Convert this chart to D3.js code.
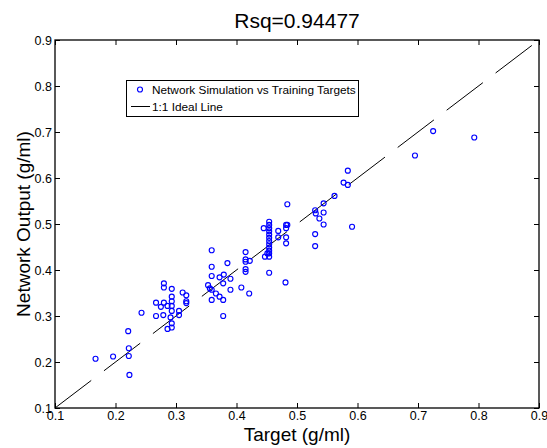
<!DOCTYPE html>
<html><head><meta charset="utf-8">
<script src="https://cdn.jsdelivr.net/npm/d3@7"></script>
<style>
body{margin:0;background:#fff}
svg{display:block}
text{font-family:"Liberation Sans",Arial,sans-serif;fill:#000}
</style>
</head><body><svg id="c" width="547" height="448"></svg>
<script>
// ---- data ----
const targets = [
 0.167,0.196,0.221,0.222,0.222,0.223,0.243,
 0.267,0.280,0.275,0.267,0.279,0.280,0.280,0.293,0.293,0.293,0.286,0.293,0.293,0.291,0.293,0.293,0.286,
 0.305,0.305,0.311,0.317,0.317,0.317,
 0.359,0.359,0.359,0.353,0.356,0.359,0.359,0.366,0.372,0.378,0.378,0.372,0.379,0.378,0.385,0.390,0.390,
 0.408,0.421,0.415,0.415,0.415,0.415,0.415,0.422,
 0.454,0.454,0.454,0.454,0.454,0.454,0.454,0.454,0.454,0.454,0.454,0.454,0.445,0.447,0.451,0.454,
 0.484,0.469,0.469,0.482,0.484,0.482,0.482,0.482,0.481,
 0.530,0.531,0.537,0.544,0.544,0.544,0.530,0.530,
 0.562,0.577,0.584,0.584,0.591,
 0.695,0.725,0.793
];
const outputs = [
 0.207,0.212,0.267,0.230,0.213,0.172,0.307,
 0.329,0.329,0.320,0.300,0.302,0.371,0.362,0.359,0.342,0.332,0.322,0.322,0.311,0.297,0.284,0.275,0.272,
 0.311,0.302,0.351,0.345,0.332,0.328,
 0.443,0.407,0.387,0.367,0.360,0.357,0.335,0.349,0.342,0.335,0.300,0.384,0.390,0.371,0.415,0.381,0.357,
 0.362,0.349,0.439,0.423,0.418,0.402,0.396,0.420,
 0.505,0.498,0.491,0.484,0.477,0.470,0.463,0.456,0.449,0.442,0.436,0.429,0.491,0.429,0.436,0.394,
 0.543,0.485,0.471,0.498,0.498,0.491,0.471,0.458,0.373,
 0.530,0.523,0.512,0.545,0.525,0.499,0.478,0.452,
 0.561,0.590,0.585,0.616,0.494,
 0.649,0.702,0.688
];
const idealLine = [0.1, 0.9];
const xTicks = [0.1,0.2,0.3,0.4,0.5,0.6,0.7,0.8,0.9];
const yTicks = [0.1,0.2,0.3,0.4,0.5,0.6,0.7,0.8,0.9];
const titleText = "Rsq=0.94477";
const xLabel = "Target (g/ml)";
const yLabel = "Network Output (g/ml)";
const legendLabels = ["Network Simulation vs Training Targets", "1:1 Ideal Line"];

// ---- drawing ----
const svg = d3.select("#c");
const L = 55, R = 539, T = 40, B = 408;
const x = d3.scaleLinear().domain([0.1, 0.9]).range([L, R]);
const y = d3.scaleLinear().domain([0.1, 0.9]).range([B, T]);
const fmt = d3.format(".1f");

svg.append("rect").attr("width", 547).attr("height", 448).attr("fill", "#fff");

// ideal line
svg.append("line")
  .attr("x1", x(idealLine[0])).attr("y1", y(idealLine[0]))
  .attr("x2", x(idealLine[1])).attr("y2", y(idealLine[1]))
  .attr("stroke", "#000").attr("stroke-width", 1)
  .attr("stroke-dasharray", "45.5,16");

// points
svg.append("g").selectAll("circle")
  .data(targets.map((t, i) => [t, outputs[i]]))
  .join("circle")
  .attr("cx", d => x(d[0])).attr("cy", d => y(d[1]))
  .attr("r", 2.5).attr("fill", "none")
  .attr("stroke", "#0000ff").attr("stroke-width", 1.15);

// axes
function styleAxis(g) {
  g.select(".domain").remove();
  g.selectAll("line").attr("stroke", "#000").attr("stroke-width", 1);
  g.selectAll("text").attr("font-size", 12.5).attr("fill", "#000")
    .style("font-family", '"Liberation Sans", Arial, sans-serif');
}
svg.append("g").attr("transform", `translate(0,${B})`)
  .call(d3.axisBottom(x).tickValues(xTicks).tickFormat(fmt).tickSizeInner(-5).tickSizeOuter(0).tickPadding(3))
  .call(styleAxis);
svg.append("g").attr("transform", `translate(${L},0)`)
  .call(d3.axisLeft(y).tickValues(yTicks).tickFormat(fmt).tickSizeInner(-5).tickSizeOuter(0).tickPadding(3))
  .call(styleAxis);
svg.append("g").attr("transform", `translate(0,${T})`)
  .call(d3.axisTop(x).tickValues(xTicks).tickFormat("").tickSizeInner(-5).tickSizeOuter(0))
  .call(styleAxis);
svg.append("g").attr("transform", `translate(${R},0)`)
  .call(d3.axisRight(y).tickValues(yTicks).tickFormat("").tickSizeInner(-5).tickSizeOuter(0))
  .call(styleAxis);

// box
svg.append("rect").attr("x", L).attr("y", T).attr("width", R - L).attr("height", B - T)
  .attr("fill", "none").attr("stroke", "#000").attr("stroke-width", 1.3);

// title & labels
svg.append("text").attr("x", (L + R) / 2).attr("y", 28).attr("text-anchor", "middle")
  .attr("font-size", 21).text(titleText);
svg.append("text").attr("x", (L + R) / 2).attr("y", 441).attr("text-anchor", "middle")
  .attr("font-size", 19).text(xLabel);
svg.append("text").attr("transform", `translate(30,${(T + B) / 2}) rotate(-90)`)
  .attr("text-anchor", "middle").attr("font-size", 19).text(yLabel);

// legend
const lg = svg.append("g");
lg.append("rect").attr("x", 126.5).attr("y", 80.5).attr("width", 232).attr("height", 36)
  .attr("fill", "#fff").attr("stroke", "#000").attr("stroke-width", 1);
lg.append("circle").attr("cx", 140).attr("cy", 89.5).attr("r", 2.5)
  .attr("fill", "none").attr("stroke", "#0000ff").attr("stroke-width", 1.15);
lg.append("text").attr("x", 152).attr("y", 94).attr("font-size", 11.8).text(legendLabels[0]);
lg.append("line").attr("x1", 131).attr("x2", 150).attr("y1", 106.5).attr("y2", 106.5)
  .attr("stroke", "#000").attr("stroke-width", 1);
lg.append("text").attr("x", 152).attr("y", 111).attr("font-size", 11.8).text(legendLabels[1]);
</script>
</body></html>
